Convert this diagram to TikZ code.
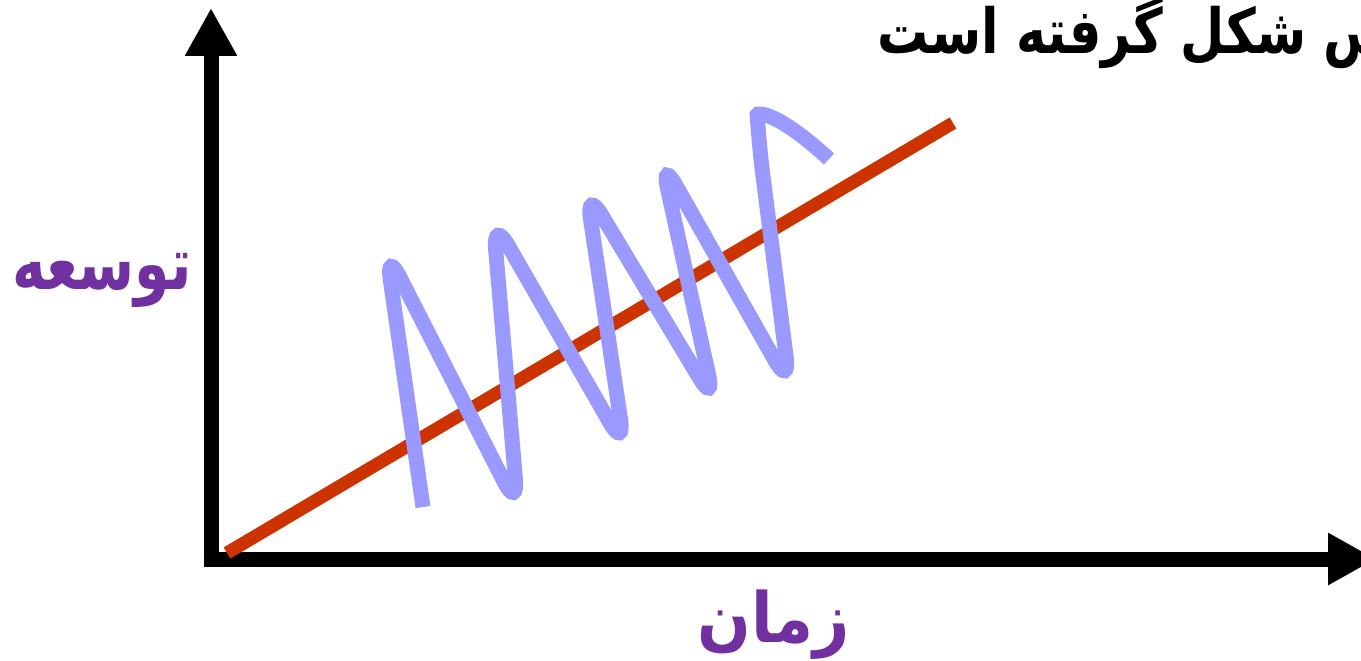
\documentclass[tikz,border=0pt]{standalone}
\usepackage{fontspec}
\newfontfamily\arabicfont[Script=Arabic]{DejaVu Sans}
\TeXXeTstate=1
\usetikzlibrary{arrows.meta}
\definecolor{trendred}{HTML}{CC3300}
\definecolor{wavecol}{HTML}{9999FF}
\definecolor{labelpurple}{HTML}{7030A0}
\tikzset{
  axisline/.style={line width=15pt, draw=black, -{Triangle[width=49pt,length=48pt]}},
  trendline/.style={line width=13pt, draw=trendred},
  waveline/.style={line width=15pt, draw=wavecol, rounded corners=30pt},
  axislabel/.style={inner sep=0pt, text=labelpurple},
  titletext/.style={inner sep=0pt, text=black, font=\arabicfont\bfseries\fontsize{51}{60}\selectfont}
}
\begin{document}
\begin{tikzpicture}[x=1pt,y=-1pt]
\useasboundingbox (0,0) rectangle (1361,661);
% axes
\coordinate (vbot) at (211,566.5);
\coordinate (ytip) at (211,8);
\coordinate (hleft) at (203.5,559);
\coordinate (xtip) at (1376,559);
\draw[axisline] (vbot) -- (ytip);
\draw[axisline] (hleft) -- (xtip);
% trend line
\coordinate (r1) at (227,553);
\coordinate (r2) at (953,123);
\draw[trendline] (r1) -- (r2);
% oscillation
\draw[waveline] (423,507) -- (386,250) -- (518,509) -- (493,219) -- (625,449) -- (586,189) -- (715,404) -- (661,159) -- (790,387) -- (759,145) .. controls (757,112) and (778,112) .. (829,159);
% texts
\node[titletext, anchor=base west] (title) at (877,54) {\scalebox{1}[1.22]{\beginR س شکل گرفته است\endR}};
\node[axislabel, anchor=base west, font=\arabicfont\bfseries\fontsize{57}{66}\selectfont] (ylab) at (12,289) {\scalebox{1}[1.3]{\beginR توسعه\endR}};
\node[axislabel, anchor=base west, font=\arabicfont\bfseries\fontsize{63}{72}\selectfont] (xlab) at (697,642) {\scalebox{1}[1.1]{\beginR زمان\endR}};
\end{tikzpicture}
\end{document}
